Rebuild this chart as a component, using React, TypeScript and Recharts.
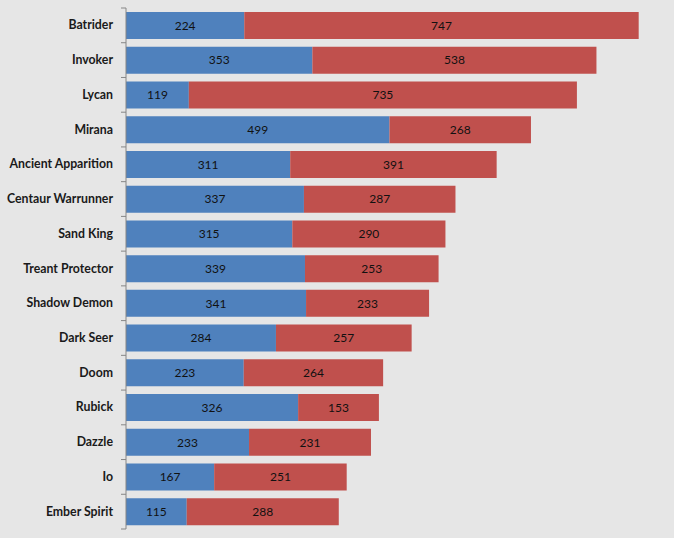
import { BarChart, Bar, XAxis, YAxis, LabelList } from 'recharts'

const heroes = [
  'Batrider',
  'Invoker',
  'Lycan',
  'Mirana',
  'Ancient Apparition',
  'Centaur Warrunner',
  'Sand King',
  'Treant Protector',
  'Shadow Demon',
  'Dark Seer',
  'Doom',
  'Rubick',
  'Dazzle',
  'Io',
  'Ember Spirit',
]
const blueValues = [224, 353, 119, 499, 311, 337, 315, 339, 341, 284, 223, 326, 233, 167, 115]
const redValues = [747, 538, 735, 268, 391, 287, 290, 253, 233, 257, 264, 153, 231, 251, 288]

const W = 674
const H = 538
const TOP = 8
const BOTTOM = 9
const AXIS_W = 126
const BAND = (H - TOP - BOTTOM) / heroes.length
const FONT = 'Lato, "Open Sans", sans-serif'

const data = heroes.map((name, i) => ({ name, blue: blueValues[i], red: redValues[i] }))

function HeroTick(props: any) {
  const { y, payload, index } = props
  return (
    <g>
      <text
        x={AXIS_W - 13}
        y={y}
        dy={4}
        textAnchor="end"
        fontFamily={FONT}
        fontWeight={700}
        fontSize={12.3}
        fill="#1a1a1a"
      >
        {payload.value}
      </text>
      <line x1={AXIS_W - 5} x2={AXIS_W} y1={y - BAND / 2} y2={y - BAND / 2} stroke="#868686" />
      {index === heroes.length - 1 && (
        <line x1={AXIS_W - 5} x2={AXIS_W} y1={y + BAND / 2} y2={y + BAND / 2} stroke="#868686" />
      )}
    </g>
  )
}

export default function App() {
  return (
    <div style={{ position: 'absolute', left: 0, top: 0, width: W, height: H, background: '#e6e6e6' }}>
      <BarChart
        width={W}
        height={H}
        data={data}
        layout="vertical"
        margin={{ top: TOP, right: 20, bottom: BOTTOM, left: 0 }}
        barSize={27}
      >
        <XAxis type="number" domain={[0, 1000]} hide />
        <YAxis
          type="category"
          dataKey="name"
          width={AXIS_W}
          interval={0}
          tickLine={false}
          axisLine={{ stroke: '#868686' }}
          tick={<HeroTick />}
        />
        <Bar dataKey="blue" stackId="a" fill="#4f81bd" isAnimationActive={false}>
          <LabelList dataKey="blue" position="center" fill="#111" fontSize={12} fontFamily={FONT} />
        </Bar>
        <Bar dataKey="red" stackId="a" fill="#c0504d" isAnimationActive={false}>
          <LabelList dataKey="red" position="center" fill="#111" fontSize={12} fontFamily={FONT} />
        </Bar>
      </BarChart>
    </div>
  )
}
